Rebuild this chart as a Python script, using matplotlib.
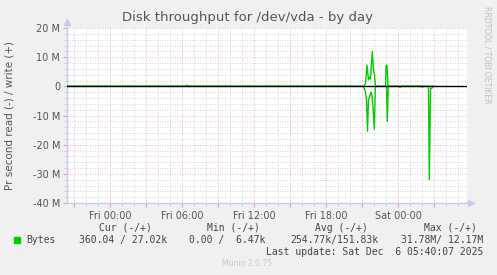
import numpy as np
import matplotlib
matplotlib.use("Agg")
import matplotlib.pyplot as plt
from matplotlib.ticker import MultipleLocator

# hours relative to Fri 00:00, values in M bytes/s
write_hours = [-3.6, 6.36, 6.44, 6.52, 21.17, 21.29, 21.42, 21.54, 21.625, 21.71,
               21.86, 21.96, 22.04, 22.125, 22.96, 23.0, 23.08, 23.17, 26.9]
write_vals = [0, 0, 0.4, 0, 0, 1.0, 7.3, 2.2, 3.2, 2.5,
              11.9, 5.6, 3.9, 0, 0, 7.0, 7.3, 0, 0]

read_hours = [-3.6, 21.1, 21.17, 21.29, 21.375, 21.46, 21.54, 21.625, 21.75, 21.83,
              21.92, 22.03, 22.11, 22.17, 23.04, 23.11, 23.19, 24.04, 24.17, 24.29,
              25.92, 26.03, 26.125, 26.54, 26.61, 26.71, 26.81, 26.92]
read_vals = [0, 0, 0.6, 2.0, 4.7, 15.4, 4.7, 3.7, 2.0, 3.0,
             7.5, 14.7, 0.6, 0, 0, 12.0, 0, 0, 0.3, 0,
             0, 0.3, 0, 0, 32.0, 0.7, 0.7, 0]

x_labels = ["Fri 00:00", "Fri 06:00", "Fri 12:00", "Fri 18:00", "Sat 00:00"]
x_label_pos = [0, 6, 12, 18, 24]

W, H = 497, 275
bg = "#f0f0f0"
fig = plt.figure(figsize=(W / 100, H / 100), dpi=100, facecolor=bg)
ax = fig.add_axes([67 / W, (H - 203) / H, 400 / W, 175 / H])
ax.set_facecolor("white")

ax.set_xlim(-3.58, 29.75)
ax.set_ylim(-40, 20)

# grid
ax.xaxis.set_major_locator(MultipleLocator(3))
ax.xaxis.set_minor_locator(MultipleLocator(1))
ax.yaxis.set_major_locator(MultipleLocator(10))
ax.yaxis.set_minor_locator(MultipleLocator(2))
ax.grid(which="minor", color="#c8c8c8", linestyle=(0, (1, 2)), linewidth=0.6)
ax.grid(which="major", color="#e8a0a0", linestyle=(0, (1, 2)), linewidth=0.6)
ax.set_axisbelow(True)

ax.plot(write_hours, write_vals, color="#00cc00", lw=1.0, zorder=3)
ax.plot(read_hours, [-v for v in read_vals], color="#00cc00", lw=1.0, zorder=3)
ax.axhline(0, color="black", lw=1.0, zorder=4)

# ticks
ticks3 = np.arange(-3, 30, 3)
ax.set_xticks(ticks3)
ax.set_xticklabels([x_labels[x_label_pos.index(t)] if t in x_label_pos else "" for t in ticks3])
ax.tick_params(axis="x", which="major", length=3, color="#e8a0a0", labelsize=7,
               labelcolor="#555555", pad=3)
ax.tick_params(axis="x", which="minor", length=2, color="#c8c8c8")
yt = np.arange(-40, 21, 10)
ax.set_yticks(yt)
ax.set_yticklabels(["%d M" % v if v != 0 else "0" for v in yt])
ax.tick_params(axis="y", which="major", length=3, color="#e8a0a0", labelsize=7,
               labelcolor="#555555", pad=2)
ax.tick_params(axis="y", which="minor", length=2, color="#c8c8c8")

for s in ["top", "right"]:
    ax.spines[s].set_visible(False)
for s in ["left", "bottom"]:
    ax.spines[s].set_color("#c8c8f0")
    ax.spines[s].set_linewidth(1.0)
ax.spines["left"].set_bounds(-40, 21.5)
ax.plot([29.75, 30.1], [-40, -40], color="#c8c8f0", lw=1.0, clip_on=False)
ax.plot([30.1], [-40], marker=">", color="#c8c8f0", ms=4, clip_on=False)
ax.plot([-3.58], [22.2], marker="^", color="#c8c8f0", ms=4, clip_on=False)

fig.text(247 / W, 1 - 18 / H, "Disk throughput for /dev/vda - by day", ha="center",
         va="center", fontsize=9.5, color="#555555")
fig.text(10 / W, 1 - 115 / H, "Pr second read (-) / write (+)", rotation=90,
         ha="center", va="center", fontsize=7.5, color="#555555")
fig.text(487 / W, 1 - 55 / H, "RRDTOOL / TOBI OETIKER", rotation=270, ha="center",
         va="center", fontsize=5.5, color="#c0c0c0")

mono = dict(family="DejaVu Sans Mono", fontsize=7.0, color="#444444", va="center")
fig.text(125 / W, 1 - 228 / H, "Cur (-/+)", ha="center", **mono)
fig.text(233 / W, 1 - 228 / H, "Min (-/+)", ha="center", **mono)
fig.text(341 / W, 1 - 228 / H, "Avg (-/+)", ha="center", **mono)
fig.text(450 / W, 1 - 228 / H, "Max (-/+)", ha="center", **mono)
fig.patches.append(plt.Rectangle((14 / W, 1 - 243 / H), 6 / W, 6 / H, color="#00cc00",
                                 transform=fig.transFigure, figure=fig))
fig.text(26 / W, 1 - 240 / H, "Bytes", ha="left", **mono)
fig.text(167 / W, 1 - 240 / H, "360.04 / 27.02k", ha="right", **mono)
fig.text(265 / W, 1 - 240 / H, "0.00 /  6.47k", ha="right", **mono)
fig.text(378 / W, 1 - 240 / H, "254.77k/151.83k", ha="right", **mono)
fig.text(483 / W, 1 - 240 / H, "31.78M/ 12.17M", ha="right", **mono)
fig.text(483 / W, 1 - 252 / H, "Last update: Sat Dec  6 05:40:07 2025", ha="right", **mono)
fig.text(247 / W, 1 - 264 / H, "Munin 2.0.75", ha="center", va="center",
         fontsize=5.5, color="#c8c8c8")

fig.savefig("out.png", dpi=100, facecolor=bg)
